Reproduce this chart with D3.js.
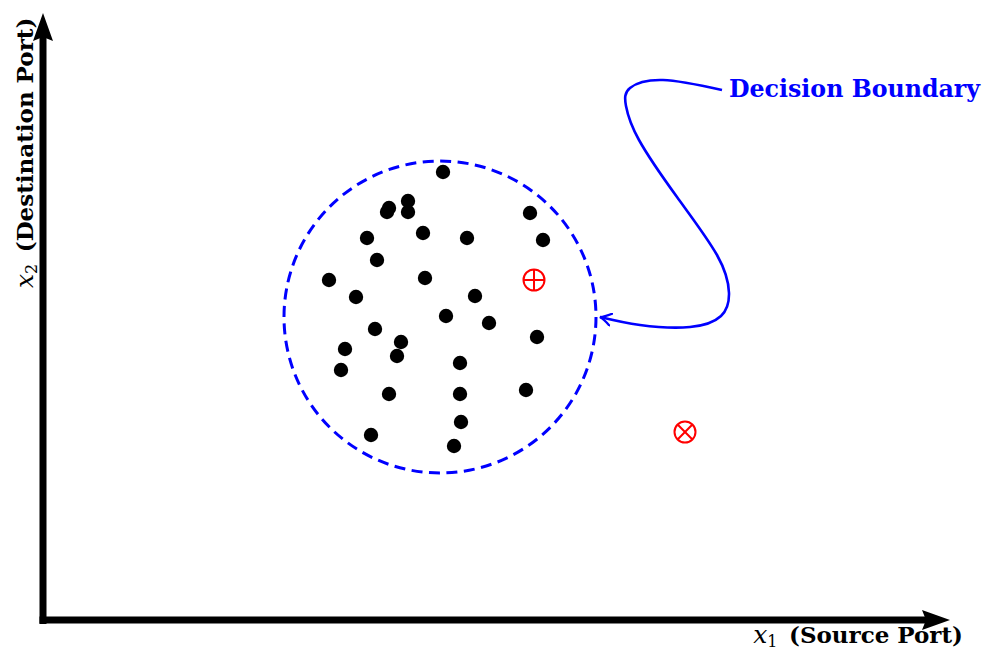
<!DOCTYPE html>
<html>
<head>
<meta charset="utf-8">
<script src="https://cdn.jsdelivr.net/npm/d3@7"></script>
<style>
  body { margin: 0; background: #fff; }
  svg { display: block; }
  .lbl { font-family: "DejaVu Serif", serif; }
</style>
</head>
<body>
<div id="chart"></div>
<script>
// normal traffic samples (x1 = source port, x2 = destination port), arbitrary units
const normalX = [400, 365, 346, 344, 365, 487, 324, 380, 424, 500, 334, 286, 382, 313, 432,
                 403, 446, 332, 494, 358, 302, 354, 417, 298, 346, 417, 483, 418, 328, 411];
const normalY = [448, 419, 412, 408, 408, 407, 382, 387, 382, 380, 360, 340, 342, 323, 324,
                 304, 297, 291, 283, 278, 271, 264, 257, 250, 226, 226, 230, 198, 185, 174];

// the two red samples: one inside (plus) and one outside (times) the boundary
const oddKind = ["plus", "times"];
const oddX = [491, 642];
const oddY = [340, 188];

// decision boundary circle
const boundaryCenter = [397, 303];
const boundaryRadius = 156;

// annotation curve from label to boundary
const noteX = [679, 620, 587, 583, 596, 634, 674, 686, 678, 647, 597, 557];
const noteY = [530, 540, 532, 514, 480, 423, 365, 327, 304, 293, 295, 303];
const noteText = "Decision Boundary";

const width = 983, height = 650;

const x = d3.scaleLinear().domain([0, 900]).range([43, 943]);
const y = d3.scaleLinear().domain([0, 600]).range([620, 20]);

const svg = d3.select("#chart").append("svg")
  .attr("width", width)
  .attr("height", height);

const defs = svg.append("defs");
defs.append("marker")
  .attr("id", "noteArrow")
  .attr("viewBox", "-12 -7 14 14")
  .attr("refX", 0).attr("refY", 0)
  .attr("markerWidth", 14).attr("markerHeight", 14)
  .attr("markerUnits", "userSpaceOnUse")
  .attr("orient", "auto")
  .append("path")
  .attr("d", "M-11,-6 Q-4,-1 0,0 Q-4,1 -11,6")
  .attr("fill", "none")
  .attr("stroke", "#0000ff")
  .attr("stroke-width", 2.2)
  .attr("stroke-linecap", "round");

// axes
const x0 = x(0), y0 = y(0);
const axisG = svg.append("g");
axisG.append("line")
  .attr("x1", x0).attr("y1", y0 + 4)
  .attr("x2", x0).attr("y2", 36)
  .attr("stroke", "#000").attr("stroke-width", 7);
axisG.append("line")
  .attr("x1", x0 - 3.5).attr("y1", y0)
  .attr("x2", 926).attr("y2", y0)
  .attr("stroke", "#000").attr("stroke-width", 7);
// arrowheads
axisG.append("path")
  .attr("d", `M${x0},13 L${x0 + 10},41 L${x0},37 L${x0 - 10},41 Z`)
  .attr("fill", "#000");
axisG.append("path")
  .attr("d", `M950,${y0} L922,${y0 - 10} L926,${y0} L922,${y0 + 10} Z`)
  .attr("fill", "#000");

// axis labels
const xl = svg.append("text").attr("class", "lbl")
  .attr("x", 963).attr("y", 643)
  .attr("text-anchor", "end")
  .attr("font-size", 23);
xl.append("tspan").attr("font-style", "italic").attr("font-size", 25).text("x");
xl.append("tspan").attr("font-size", 16).attr("dy", 4).text("1");
xl.append("tspan").attr("dy", -4).attr("font-weight", "bold").text("\u2002(Source Port)");

const yl = svg.append("text").attr("class", "lbl")
  .attr("transform", "translate(33,288) rotate(-90)")
  .attr("font-size", 23);
yl.append("tspan").attr("font-style", "italic").attr("font-size", 25).text("x");
yl.append("tspan").attr("font-size", 16).attr("dy", 4).text("2");
yl.append("tspan").attr("dy", -4).attr("font-weight", "bold").text("\u2002(Destination Port)");

// decision boundary
svg.append("circle")
  .attr("cx", x(boundaryCenter[0]))
  .attr("cy", y(boundaryCenter[1]))
  .attr("r", x(boundaryRadius) - x(0))
  .attr("fill", "none")
  .attr("stroke", "#0000ff")
  .attr("stroke-width", 3)
  .attr("stroke-dasharray", "11,6.5");

// normal points
svg.append("g").selectAll("circle")
  .data(normalX.map((d, i) => [d, normalY[i]]))
  .join("circle")
  .attr("cx", d => x(d[0]))
  .attr("cy", d => y(d[1]))
  .attr("r", 7.2)
  .attr("fill", "#000");

// odd points
const odd = svg.append("g").selectAll("g")
  .data(oddKind.map((k, i) => ({ k, x: oddX[i], y: oddY[i] })))
  .join("g")
  .attr("transform", d => `translate(${x(d.x)},${y(d.y)})`)
  .attr("stroke", "#ff0000")
  .attr("stroke-width", 2)
  .attr("fill", "none");
const r = 10.5;
odd.append("circle").attr("r", r);
odd.append("path")
  .attr("d", d => d.k === "plus"
    ? `M${-r},0 L${r},0 M0,${-r} L0,${r}`
    : `M${-r * 0.707},${-r * 0.707} L${r * 0.707},${r * 0.707} M${r * 0.707},${-r * 0.707} L${-r * 0.707},${r * 0.707}`);

// annotation
const line = d3.line()
  .x(d => x(d[0]))
  .y(d => y(d[1]))
  .curve(d3.curveNatural);
svg.append("path")
  .attr("d", line(noteX.map((d, i) => [d, noteY[i]])))
  .attr("fill", "none")
  .attr("stroke", "#0000ff")
  .attr("stroke-width", 2.6)
  .attr("marker-end", "url(#noteArrow)");

svg.append("text").attr("class", "lbl")
  .attr("x", x(noteX[0]) + 7)
  .attr("y", 97)
  .attr("font-size", 23.7)
  .attr("font-weight", "bold")
  .attr("fill", "#0000ff")
  .text(noteText);
</script>
</body>
</html>
